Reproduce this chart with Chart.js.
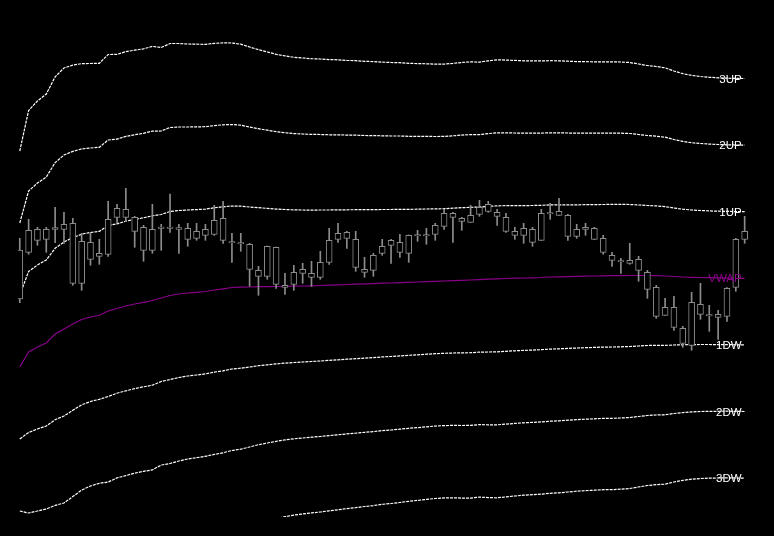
<!DOCTYPE html>
<html>
<head>
<meta charset="utf-8">
<script src="https://cdn.jsdelivr.net/npm/chart.js@4.4.1/dist/chart.umd.min.js"></script>
<style>
  html, body { margin: 0; padding: 0; background: #000; }
  #wrap { width: 774px; height: 536px; }
</style>
</head>
<body>
<div id="wrap"><canvas id="vwapChart"></canvas></div>
<script>
// candle data (one entry per bar)
const open = [120.10, 124.77, 125.97, 127.07, 127.07, 127.07, 127.67, 125.87, 124.07, 124.67,
  124.57, 128.27, 129.07, 128.27, 127.27, 127.07, 127.15, 127.30, 127.25, 127.17,
  126.87, 126.47, 126.57, 128.17, 125.85, 125.75, 125.57, 122.97, 122.37, 125.27,
  121.47, 121.57, 122.67, 122.67, 122.27, 123.77, 126.07, 126.17, 126.07, 123.07,
  122.97, 124.67, 125.47, 125.77, 124.67, 126.40, 126.55, 126.57, 127.37, 128.27,
  128.17, 127.77, 128.57, 128.87, 128.77, 128.27, 126.87, 126.47, 127.07, 125.97,
  128.60, 128.47, 128.47, 126.37, 127.07, 127.17, 126.17, 124.47, 123.95, 123.67,
  124.07, 122.77, 121.27, 118.47, 119.27, 117.17, 115.47, 118.57, 118.55, 118.57,
  118.37, 121.27, 126.07];
const high = [126.17, 128.07, 127.27, 127.27, 129.27, 128.77, 128.17, 126.67, 126.67, 126.07,
  129.87, 129.57, 131.17, 128.37, 127.47, 129.57, 127.57, 130.60, 127.57, 127.67,
  127.67, 127.57, 129.47, 129.87, 126.67, 126.67, 125.67, 123.37, 125.40, 125.30,
  122.67, 123.47, 123.67, 123.87, 124.87, 127.17, 127.67, 126.87, 126.87, 124.27,
  124.67, 126.07, 126.07, 126.57, 126.50, 126.97, 127.17, 127.67, 129.07, 128.77,
  128.27, 129.47, 129.97, 129.87, 129.07, 128.67, 127.27, 127.67, 127.27, 129.07,
  129.67, 130.17, 128.57, 127.57, 127.67, 127.27, 126.47, 124.77, 124.17, 125.67,
  124.37, 122.97, 121.47, 120.17, 120.37, 117.37, 120.77, 121.67, 119.47, 118.97,
  121.25, 126.17, 128.37];
const low = [119.73, 124.57, 125.47, 124.77, 125.73, 125.67, 121.47, 120.97, 123.47, 123.57,
  124.37, 127.70, 127.83, 125.27, 123.87, 124.67, 124.97, 126.77, 124.67, 125.37,
  125.97, 125.97, 126.47, 125.67, 123.77, 124.87, 121.37, 120.47, 122.07, 121.17,
  120.57, 120.97, 121.67, 121.37, 122.07, 123.57, 125.77, 125.17, 122.87, 122.27,
  122.37, 124.47, 123.67, 124.27, 123.77, 125.87, 125.57, 125.97, 127.07, 125.77,
  126.97, 127.75, 128.37, 128.77, 127.47, 126.77, 126.07, 125.67, 125.37, 125.95,
  128.07, 128.45, 125.97, 126.17, 126.47, 126.05, 124.57, 123.37, 122.67, 123.57,
  121.87, 120.17, 118.17, 118.45, 116.97, 115.27, 114.97, 118.07, 116.87, 116.07,
  117.87, 120.87, 125.67];
const close = [125.00, 126.97, 127.07, 126.07, 127.23, 127.57, 121.67, 121.67, 125.77, 124.37,
  128.07, 129.17, 128.27, 126.87, 124.97, 124.97, 127.30, 127.15, 127.07, 126.07,
  126.17, 127.07, 127.97, 125.97, 125.70, 125.60, 123.07, 122.37, 125.37, 121.57,
  121.27, 122.77, 123.07, 122.27, 123.77, 125.97, 126.67, 126.77, 123.27, 122.77,
  124.47, 125.37, 125.97, 124.77, 126.47, 126.55, 126.40, 127.47, 128.67, 128.67,
  127.87, 128.47, 129.27, 129.57, 128.37, 126.87, 126.47, 127.17, 125.77, 128.67,
  128.75, 128.87, 126.37, 127.07, 127.27, 126.07, 124.77, 123.97, 123.80, 123.97,
  122.97, 121.07, 118.37, 119.27, 117.27, 115.67, 119.77, 119.57, 118.40, 118.27,
  121.17, 126.07, 126.87];

// running VWAP and its standard deviation
const vwap = [113.30, 114.80, 115.30, 115.70, 116.60, 117.10, 117.60, 118.05, 118.30, 118.47,
  118.90, 119.15, 119.40, 119.60, 119.77, 119.95, 120.20, 120.45, 120.60, 120.70,
  120.77, 120.85, 121.00, 121.12, 121.25, 121.28, 121.30, 121.33, 121.34, 121.35,
  121.37, 121.38, 121.40, 121.42, 121.45, 121.48, 121.52, 121.55, 121.58, 121.61,
  121.64, 121.68, 121.70, 121.74, 121.77, 121.80, 121.84, 121.87, 121.90, 121.94,
  121.97, 122.00, 122.04, 122.08, 122.12, 122.15, 122.18, 122.20, 122.22, 122.25,
  122.30, 122.32, 122.34, 122.36, 122.38, 122.40, 122.42, 122.43, 122.44, 122.45,
  122.45, 122.45, 122.44, 122.40, 122.35, 122.30, 122.27, 122.25, 122.23, 122.21,
  122.20, 122.18, 122.17];
const sdev = [7.20, 8.05, 8.20, 8.30, 8.57, 8.70, 8.63, 8.53, 8.45, 8.40,
  8.55, 8.47, 8.48, 8.46, 8.45, 8.47, 8.35, 8.40, 8.35, 8.30,
  8.27, 8.24, 8.22, 8.20, 8.15, 8.10, 8.00, 7.90, 7.82, 7.74,
  7.68, 7.63, 7.60, 7.57, 7.55, 7.52, 7.50, 7.47, 7.45, 7.42,
  7.40, 7.37, 7.35, 7.33, 7.30, 7.28, 7.26, 7.24, 7.23, 7.24,
  7.26, 7.27, 7.25, 7.28, 7.30, 7.28, 7.26, 7.24, 7.23, 7.22,
  7.21, 7.20, 7.18, 7.16, 7.15, 7.14, 7.13, 7.13, 7.12, 7.10,
  7.05, 7.00, 6.97, 6.94, 6.85, 6.78, 6.73, 6.70, 6.68, 6.67,
  6.66, 6.66, 6.66];

const bandNames = ['3UP', '2UP', '1UP', '1DW', '2DW', '3DW'];
const bandMult = [3, 2, 1, -1, -2, -3];

const candleColor = '#8c8c8c';

const wicks = high.map((h, i) => ({ x: i, y: [low[i], h] }));
const bodies = open.map((o, i) => ({ x: i, y: [Math.min(o, close[i]), Math.max(o, close[i])] }));

const datasets = [
  {
    type: 'bar', data: bodies, order: 0, grouped: false, clip: 0,
    barThickness: 6, backgroundColor: '#000', borderColor: candleColor,
    borderWidth: 1, borderSkipped: false
  },
  {
    type: 'bar', data: wicks, order: 1, grouped: false, clip: 0,
    barThickness: 1, backgroundColor: candleColor, borderWidth: 0
  },
  {
    type: 'line', data: vwap.map((v, i) => ({ x: i, y: v })), order: 2, clip: 0,
    borderColor: '#8a008a', borderWidth: 1.2, pointRadius: 0, tension: 0,
    endLabel: 'VWAP', labelColor: '#8a008a'
  }
];

bandNames.forEach((name, k) => {
  datasets.push({
    type: 'line',
    data: vwap.map((v, i) => ({ x: i, y: v + bandMult[k] * sdev[i] })),
    order: 2, clip: 0,
    borderColor: '#ffffff', borderWidth: 1.2, borderDash: [3, 1],
    pointRadius: 0, tension: 0,
    endLabel: name, labelColor: '#ffffff'
  });
});

// text at the end of each line
const endLabels = {
  id: 'endLabels',
  afterDatasetsDraw(chart) {
    const c = chart.ctx;
    c.save();
    c.font = '11.5px "Liberation Sans", Arial, sans-serif';
    c.textAlign = 'right';
    c.textBaseline = 'middle';
    chart.data.datasets.forEach((ds, i) => {
      if (!ds.endLabel) return;
      const meta = chart.getDatasetMeta(i);
      const pt = meta.data[meta.data.length - 1];
      c.fillStyle = ds.labelColor;
      c.fillText(ds.endLabel, pt.x - 3, pt.y + 1);
    });
    c.restore();
  }
};

const ctx = document.getElementById('vwapChart').getContext('2d');
const vwapChart = new Chart(ctx, {
  type: 'bar',
  data: { datasets: datasets },
  options: {
    responsive: true,
    maintainAspectRatio: false,
    animation: false,
    layout: { padding: { left: 18, right: 0, top: 0, bottom: 19 } },
    plugins: { legend: { display: false }, tooltip: { enabled: false } },
    scales: {
      x: { type: 'linear', min: -0.2, max: 85.32, offset: false, display: false },
      y: { min: 98.3, max: 150, display: false }
    }
  },
  plugins: [endLabels]
});
</script>
</body>
</html>
